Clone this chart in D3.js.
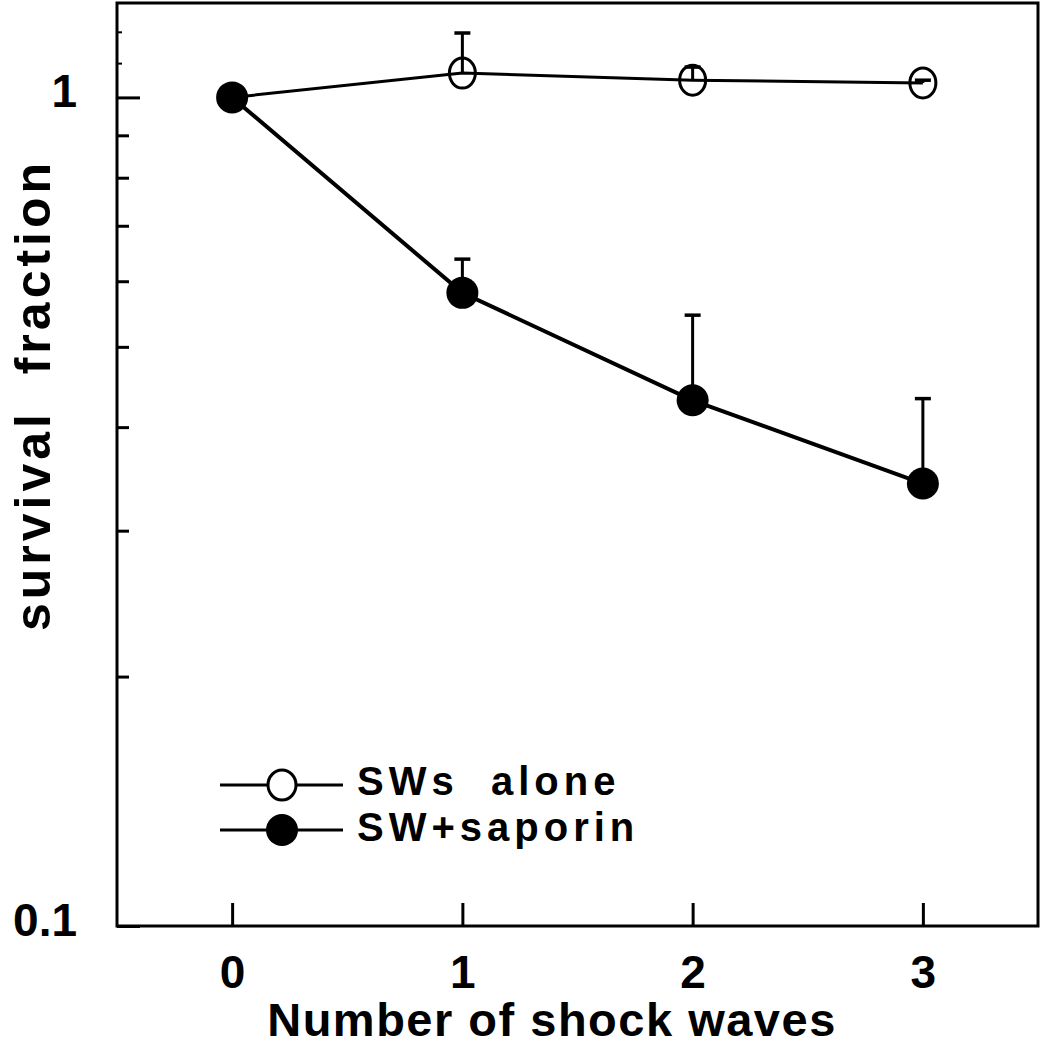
<!DOCTYPE html>
<html>
<head>
<meta charset="utf-8">
<script src="https://cdn.jsdelivr.net/npm/d3@7"></script>
<style>
  html, body { margin: 0; padding: 0; background: #fff; }
  svg text { font-family: "Liberation Sans", Arial, Helvetica, sans-serif; font-weight: bold; fill: #000; }
</style>
</head>
<body>
<svg id="chart" width="1043" height="1050"></svg>
<script>
// ---- data ----
const shocks = [0, 1, 2, 3];
const swAlone = [1.0, 1.070, 1.049, 1.041];
const swAloneErrTop = [null, 1.196, 1.088, 1.049];
const swSaporin = [1.0, 0.581, 0.431, 0.342];
const swSaporinErrTop = [null, 0.638, 0.546, 0.433];
const xTicks = [0, 1, 2, 3];
const yMajorTicks = [0.1, 1];
const yMinorTicks = [0.2, 0.3, 0.4, 0.5, 0.6, 0.7, 0.8, 0.9];
const yTinyTicks = [1.1, 1.2];
const yTickLabels = ["0.1", "1"];
const seriesNames = ["SWs  alone", "SW+saporin"];
const xTitle = "Number of shock waves";
const yTitle = "survival  fraction";

// ---- layout ----
const svg = d3.select("#chart");
const L = 117, R = 1038, T = 3, B = 926;
const x = d3.scaleLinear().domain([-0.5, 3.5]).range([L, R]);
const y = d3.scaleLog().domain([0.1, 1.3]).range([B, T]);

// frame
svg.append("rect").attr("x", L).attr("y", T).attr("width", R - L).attr("height", B - T)
  .attr("fill", "none").attr("stroke", "#000").attr("stroke-width", 3);

// x axis (ticks inward)
const xAxis = d3.axisBottom(x).tickValues(xTicks).tickSize(-23).tickPadding(40).tickFormat(d3.format("d"));
const gx = svg.append("g").attr("transform", `translate(0,${B})`).call(xAxis);
gx.select(".domain").remove();
gx.selectAll(".tick line").attr("stroke", "#000").attr("stroke-width", 3);
gx.selectAll(".tick text").attr("font-size", 46).attr("dy", "0.48em");

// y axis major
const yAxis = d3.axisLeft(y).tickValues(yMajorTicks).tickSize(-23).tickPadding(40)
  .tickFormat((d, i) => yTickLabels[i]);
const gy = svg.append("g").attr("transform", `translate(${L},0)`).call(yAxis);
gy.select(".domain").remove();
gy.selectAll(".tick line").attr("stroke", "#000").attr("stroke-width", 3);
gy.selectAll(".tick text").attr("font-size", 46).attr("dy", "0.2em");

// y axis minor
const yAxisMinor = d3.axisLeft(y).tickValues(yMinorTicks).tickSize(-12).tickFormat("");
const gym = svg.append("g").attr("transform", `translate(${L},0)`).call(yAxisMinor);
gym.select(".domain").remove();
gym.selectAll(".tick line").attr("stroke", "#000").attr("stroke-width", 3);

const yAxisTiny = d3.axisLeft(y).tickValues(yTinyTicks).tickSize(-5).tickFormat("");
const gyt = svg.append("g").attr("transform", `translate(${L},0)`).call(yAxisTiny);
gyt.select(".domain").remove();
gyt.selectAll(".tick line").attr("stroke", "#000").attr("stroke-width", 2);

// titles
svg.append("text").attr("x", 552).attr("y", 1036).attr("text-anchor", "middle")
  .attr("font-size", 47).attr("letter-spacing", 1.5).text(xTitle);
svg.append("text").attr("transform", `translate(50,395) rotate(-90)`).attr("text-anchor", "middle")
  .attr("font-size", 50).attr("letter-spacing", 4).style("white-space", "pre").text(yTitle);

// data
const dAlone = shocks.map((s, i) => ({ x: s, y: swAlone[i], e: swAloneErrTop[i] }));
const dSap = shocks.map((s, i) => ({ x: s, y: swSaporin[i], e: swSaporinErrTop[i] }));
const line = d3.line().x(d => x(d.x)).y(d => y(d.y));

function errorBars(data, sw) {
  const g = svg.append("g");
  data.filter(d => d.e != null).forEach(d => {
    g.append("line").attr("x1", x(d.x)).attr("x2", x(d.x)).attr("y1", y(d.y)).attr("y2", y(d.e))
      .attr("stroke", "#000").attr("stroke-width", sw);
    g.append("line").attr("x1", x(d.x) - 8).attr("x2", x(d.x) + 8).attr("y1", y(d.e)).attr("y2", y(d.e))
      .attr("stroke", "#000").attr("stroke-width", 3.5);
  });
}
errorBars(dAlone, 3);
errorBars(dSap, 3);

svg.append("path").datum(dAlone).attr("d", line).attr("fill", "none").attr("stroke", "#000").attr("stroke-width", 3);
svg.append("path").datum(dSap).attr("d", line).attr("fill", "none").attr("stroke", "#000").attr("stroke-width", 4);

svg.append("g").selectAll("ellipse").data(dAlone.slice(1)).join("ellipse")
  .attr("cx", d => x(d.x)).attr("cy", d => y(d.y)).attr("rx", 13).attr("ry", 15)
  .attr("fill", "none").attr("stroke", "#000").attr("stroke-width", 3);
svg.append("g").selectAll("circle").data(dSap).join("circle")
  .attr("cx", d => x(d.x)).attr("cy", d => y(d.y)).attr("r", 16).attr("fill", "#000");

// legend
const legY = [785, 830];
const lg = svg.append("g");
lg.append("line").attr("x1", 220).attr("x2", 343).attr("y1", legY[0]).attr("y2", legY[0]).attr("stroke", "#000").attr("stroke-width", 3);
lg.append("ellipse").attr("cx", 282).attr("cy", legY[0]).attr("rx", 14).attr("ry", 15)
  .attr("fill", "#fff").attr("stroke", "#000").attr("stroke-width", 3);
lg.append("line").attr("x1", 220).attr("x2", 343).attr("y1", legY[1]).attr("y2", legY[1]).attr("stroke", "#000").attr("stroke-width", 3);
lg.append("circle").attr("cx", 282).attr("cy", legY[1]).attr("r", 16).attr("fill", "#000");
lg.selectAll("text").data(seriesNames).join("text")
  .attr("x", 357).attr("y", (d, i) => [795, 841][i])
  .attr("font-size", 40).attr("letter-spacing", 5)
  .style("white-space", "pre").text(d => d);
</script>
</body>
</html>
